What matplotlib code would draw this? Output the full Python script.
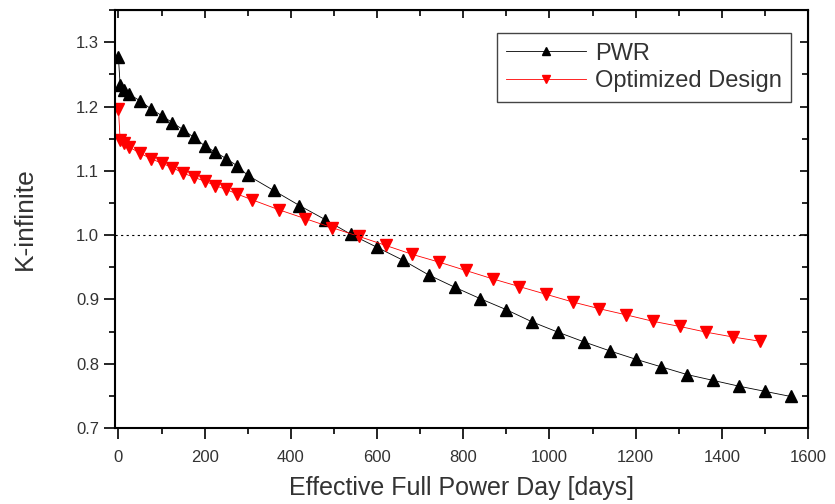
import numpy as np
from matplotlib import pyplot as plt
from matplotlib.ticker import MultipleLocator

plt.rcParams['font.family'] = ['Liberation Sans', 'DejaVu Sans']

# burnup steps (days) and k-infinite values
pwr_days = [0, 4, 12, 25, 50, 75, 100, 125, 150, 175, 200, 225, 250, 275, 300,
            360, 420, 480, 540, 600, 660, 720, 780, 840, 900, 960, 1020, 1080,
            1140, 1200, 1260, 1320, 1380, 1440, 1500, 1560]
pwr_k = [1.277, 1.233, 1.225, 1.219, 1.209, 1.1965, 1.186, 1.175, 1.164, 1.152,
         1.139, 1.129, 1.119, 1.108, 1.093, 1.0695, 1.046, 1.024, 1.001, 0.981,
         0.961, 0.938, 0.919, 0.901, 0.884, 0.865, 0.849, 0.834, 0.820, 0.807,
         0.795, 0.783, 0.774, 0.765, 0.757, 0.749]

opt_days = [0, 4, 12, 25, 50, 75, 100, 125, 150, 175, 200, 225, 250, 275, 310,
            372, 434, 496, 558, 620, 682, 744, 806, 868, 930, 992, 1054, 1116,
            1178, 1240, 1302, 1364, 1426, 1488]
opt_k = [1.1965, 1.148, 1.144, 1.137, 1.1275, 1.119, 1.112, 1.105, 1.0965, 1.090,
         1.084, 1.077, 1.071, 1.064, 1.055, 1.0395, 1.0255, 1.0115, 0.998, 0.984,
         0.970, 0.958, 0.945, 0.932, 0.920, 0.908, 0.896, 0.8855, 0.876, 0.866,
         0.858, 0.849, 0.8415, 0.835]

fig = plt.figure(figsize=(8.35, 5.04), dpi=100)
ax = fig.add_axes([0.1377, 0.1508, 0.83, 0.8292])

ax.plot(pwr_days, pwr_k, color='black', lw=0.6, marker='^', ms=8,
        label='PWR')
ax.plot(opt_days, opt_k, color='red', lw=0.6, marker='v', ms=8,
        label='Optimized Design')
ax.axhline(1.0, color='black', lw=0.8, ls=(0, (2, 3)))

ax.set_xlim(-8, 1600)
ax.set_ylim(0.7, 1.35)
ax.xaxis.set_major_locator(MultipleLocator(200))
ax.xaxis.set_minor_locator(MultipleLocator(100))
ax.yaxis.set_major_locator(MultipleLocator(0.1))
ax.yaxis.set_minor_locator(MultipleLocator(0.05))
ax.yaxis.set_major_formatter(plt.FormatStrFormatter('%.1f'))

ax.tick_params(which='both', direction='out', width=1.2, labelsize=12,
               labelcolor='#333333')
ax.tick_params(axis='x', which='major', pad=7.5)
ax.tick_params(which='major', length=8)
ax.tick_params(which='minor', length=4)
# mirrored ticks on top and right, pointing in
axt = ax.secondary_xaxis('top')
axt.xaxis.set_major_locator(MultipleLocator(200))
axt.xaxis.set_minor_locator(MultipleLocator(100))
axt.tick_params(which='both', direction='in', labeltop=False, width=1.2)
axt.tick_params(which='major', length=6)
axt.tick_params(which='minor', length=4)
axr = ax.secondary_yaxis('right')
axr.yaxis.set_major_locator(MultipleLocator(0.1))
axr.yaxis.set_minor_locator(MultipleLocator(0.05))
axr.tick_params(which='both', direction='in', labelright=False, width=1.2)
axr.tick_params(which='major', length=6)
axr.tick_params(which='minor', length=4)
for s in ax.spines.values():
    s.set_linewidth(1.5)

ax.set_xlabel('Effective Full Power Day [days]', fontsize=18, color='#333333',
              labelpad=8)
ax.set_ylabel('K-infinite', fontsize=19, color='#333333', labelpad=28)

leg = ax.legend(loc='upper right', bbox_to_anchor=(0.9755, 0.945), fontsize=17,
                fancybox=False, framealpha=1, edgecolor='#444444',
                handlelength=3.4, handletextpad=0.35, borderpad=0.4,
                labelspacing=0.25, borderaxespad=0, markerscale=0.65)
leg.get_frame().set_linewidth(1.0)
for t in leg.get_texts():
    t.set_color('#333333')

plt.savefig('out.png', dpi=100)
